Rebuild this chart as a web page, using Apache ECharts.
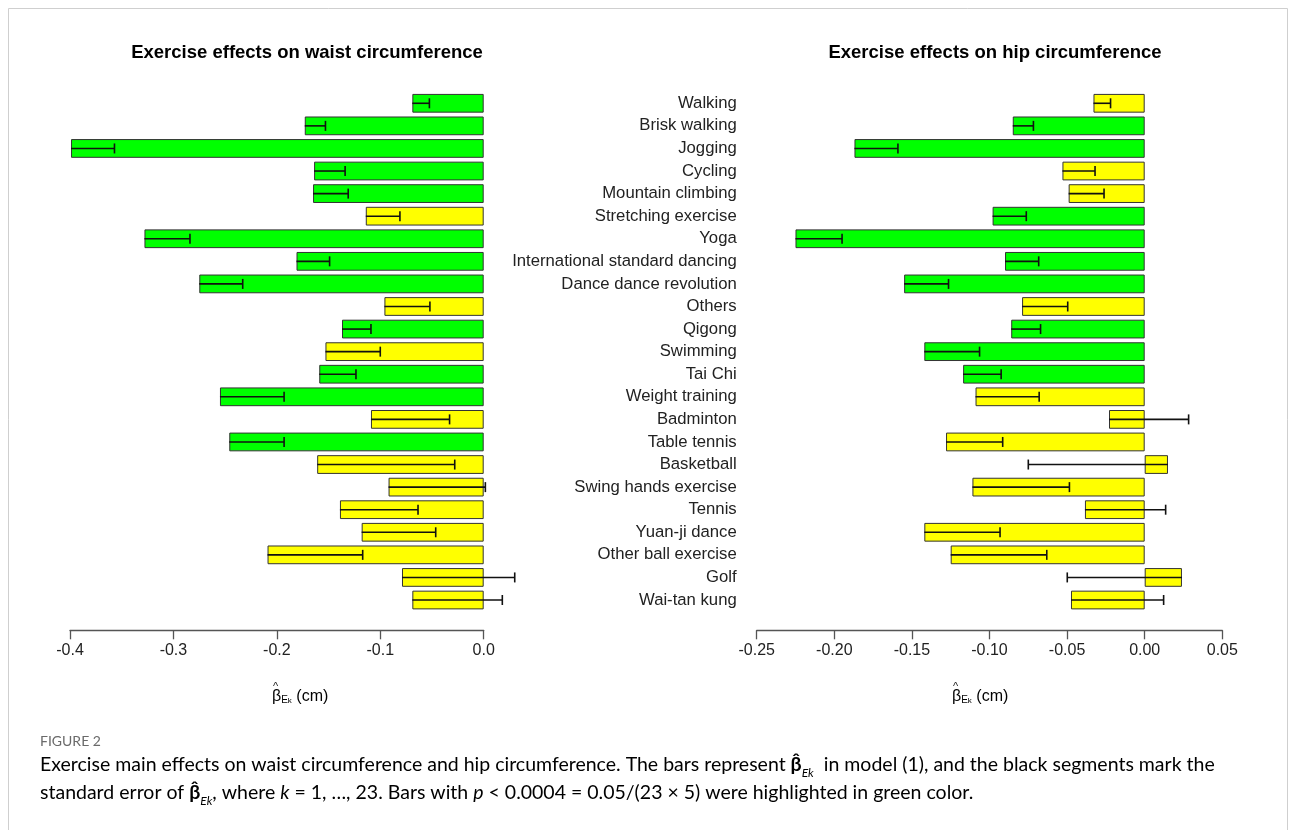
<!DOCTYPE html>
<html>
<head>
<meta charset="utf-8">
<script src="https://cdn.jsdelivr.net/npm/echarts@6/dist/echarts.min.js"></script>
<style>
  html, body { margin: 0; padding: 0; background: #fff; }
  #main { width: 1293px; height: 830px; }
</style>
</head>
<body>
<div id="main"></div>
<script>
var categories = ['Walking', 'Brisk walking', 'Jogging', 'Cycling', 'Mountain climbing',
  'Stretching exercise', 'Yoga', 'International standard dancing', 'Dance dance revolution',
  'Others', 'Qigong', 'Swimming', 'Tai Chi', 'Weight training', 'Badminton', 'Table tennis',
  'Basketball', 'Swing hands exercise', 'Tennis', 'Yuan-ji dance', 'Other ball exercise',
  'Golf', 'Wai-tan kung'];

// waist circumference: estimate, standard error, significant (green)
var waistBeta = [-0.069, -0.173, -0.399, -0.164, -0.165, -0.114, -0.328, -0.181, -0.275,
  -0.096, -0.137, -0.153, -0.159, -0.255, -0.109, -0.246, -0.161, -0.092, -0.139, -0.118,
  -0.209, -0.079, -0.069];
var waistSE = [0.0165, 0.020, 0.042, 0.030, 0.034, 0.033, 0.044, 0.032, 0.042, 0.044, 0.028,
  0.053, 0.0355, 0.062, 0.076, 0.053, 0.133, 0.0936, 0.0755, 0.0716, 0.092, 0.109, 0.087];
var waistSig = [1, 1, 1, 1, 1, 0, 1, 1, 1, 0, 1, 0, 1, 1, 0, 1, 0, 0, 0, 0, 0, 0, 0];

// hip circumference
var hipBeta = [-0.033, -0.085, -0.187, -0.053, -0.049, -0.098, -0.225, -0.090, -0.155,
  -0.079, -0.086, -0.142, -0.117, -0.109, -0.023, -0.128, 0.015, -0.111, -0.0385, -0.142,
  -0.125, 0.024, -0.0475];
var hipSE = [0.011, 0.0133, 0.028, 0.021, 0.0228, 0.0217, 0.030, 0.0217, 0.0286, 0.0294,
  0.0189, 0.0356, 0.0245, 0.041, 0.0513, 0.0365, 0.090, 0.0625, 0.052, 0.0488, 0.0619,
  0.0739, 0.0597];
var hipSig = [0, 1, 1, 0, 0, 1, 1, 1, 1, 0, 1, 1, 1, 0, 0, 0, 0, 0, 0, 0, 0, 0, 0];

var waistTicks = [-0.4, -0.3, -0.2, -0.1, 0.0];
var hipTicks = [-0.25, -0.20, -0.15, -0.10, -0.05, 0.00, 0.05];

var GREEN = '#00ff00', YELLOW = '#ffff00';
var FONT = '"Liberation Sans", Arial, sans-serif';
var CAPFONT = 'Lato, sans-serif';

function barData(beta, sig) {
  return beta.map(function (v, i) {
    return { value: v, itemStyle: { color: sig[i] ? GREEN : YELLOW } };
  });
}
function errData(beta, se) {
  return beta.map(function (v, i) { return [v, i, se[i]]; });
}
// segment from the bar end back towards zero, capped at the far end
function renderErr(params, api) {
  var v = api.value(0), i = api.value(1), se = api.value(2);
  var end = v - (v >= 0 ? 1 : -1) * se;
  var p0 = api.coord([v, i]);
  var p1 = api.coord([end, i]);
  var st = { stroke: '#111', lineWidth: 1.6 };
  return {
    type: 'group',
    children: [
      { type: 'line', shape: { x1: p0[0], y1: p0[1], x2: p1[0], y2: p1[1] }, style: st },
      { type: 'line', shape: { x1: p1[0], y1: p1[1] - 5, x2: p1[0], y2: p1[1] + 5 }, style: st }
    ]
  };
}

function xAxisFor(gridIndex, ticks, digits) {
  return {
    type: 'value', gridIndex: gridIndex,
    min: ticks[0], max: ticks[ticks.length - 1], interval: ticks[1] - ticks[0],
    offset: 19,
    axisLine: { show: true, lineStyle: { color: '#555', width: 1.3 } },
    axisTick: { show: true, length: 9, lineStyle: { color: '#555', width: 1.3 } },
    axisLabel: {
      margin: 12, fontSize: 16, color: '#222', fontFamily: FONT,
      formatter: function (v) {
        if (Math.abs(v) < 1e-9) v = 0;
        return v.toFixed(digits);
      }
    },
    splitLine: { show: false }
  };
}

var nameRich = {
  b: { fontSize: 16, fontFamily: FONT, color: '#222' },
  s: { fontSize: 10, fontFamily: FONT, color: '#222', verticalAlign: 'bottom', lineHeight: 12 },
  k: { fontSize: 8, fontFamily: FONT, color: '#222', verticalAlign: 'bottom', lineHeight: 9 },
  t: { fontSize: 16, fontFamily: FONT, color: '#222' }
};

var capRich = {
  n: { fontSize: 19.5, fontFamily: CAPFONT, color: '#5a5a5a', lineHeight: 28 },
  bb: { fontSize: 19.5, fontFamily: CAPFONT, color: '#5a5a5a', fontWeight: 'bold', lineHeight: 28 },
  s: { fontSize: 12, fontFamily: CAPFONT, color: '#5a5a5a', fontStyle: 'italic', verticalAlign: 'bottom', lineHeight: 10 },
  i: { fontSize: 19.5, fontFamily: CAPFONT, color: '#5a5a5a', fontStyle: 'italic', lineHeight: 28 }
};

function axisName(x) {
  return [
    { type: 'text', x: x, y: 697,
      style: { text: '{b|\u03b2}{s|E}{k|k}{t| (cm)}', rich: nameRich, align: 'left', verticalAlign: 'middle' } },
    { type: 'text', x: x + 1, y: 687,
      style: { text: '^', font: '11px ' + FONT, fill: '#222', align: 'left', verticalAlign: 'middle' } }
  ];
}

var chart = echarts.init(document.getElementById('main'), null, { renderer: 'canvas' });

chart.setOption({
  animation: false,
  backgroundColor: '#fff',
  title: [
    { text: 'Exercise effects on waist circumference', left: 302, top: 38, textAlign: 'center',
      textStyle: { fontSize: 18.5, fontWeight: 'bold', color: '#000', fontFamily: FONT } },
    { text: 'Exercise effects on hip circumference', left: 990, top: 38, textAlign: 'center',
      textStyle: { fontSize: 18.5, fontWeight: 'bold', color: '#000', fontFamily: FONT } }
  ],
  grid: [
    { left: 70, top: 92, width: 413.7, height: 519.3 },
    { left: 756.7, top: 92, width: 465.6, height: 519.3 }
  ],
  xAxis: [xAxisFor(0, waistTicks, 1), xAxisFor(1, hipTicks, 2)],
  yAxis: [
    { type: 'category', gridIndex: 0, data: categories, inverse: true,
      axisLine: { show: false }, axisTick: { show: false }, axisLabel: { show: false } },
    { type: 'category', gridIndex: 1, data: categories, inverse: true,
      axisLine: { show: false }, axisTick: { show: false },
      axisLabel: { margin: 20, fontSize: 16.7, color: '#222', fontFamily: FONT } }
  ],
  series: [
    { type: 'bar', xAxisIndex: 0, yAxisIndex: 0, data: barData(waistBeta, waistSig),
      barCategoryGap: '17%', itemStyle: { borderColor: '#333', borderWidth: 1 } },
    { type: 'bar', xAxisIndex: 1, yAxisIndex: 1, data: barData(hipBeta, hipSig),
      barCategoryGap: '17%', itemStyle: { borderColor: '#333', borderWidth: 1 } },
    { type: 'custom', xAxisIndex: 0, yAxisIndex: 0, data: errData(waistBeta, waistSE),
      encode: { x: 0, y: 1 }, renderItem: renderErr, clip: false, z: 5 },
    { type: 'custom', xAxisIndex: 1, yAxisIndex: 1, data: errData(hipBeta, hipSE),
      encode: { x: 0, y: 1 }, renderItem: renderErr, clip: false, z: 5 }
  ],
  graphic: [
    { type: 'rect', shape: { x: 8.5, y: 8.5, width: 1279, height: 840 },
      style: { fill: null, stroke: '#cfcfcf', lineWidth: 1 }, silent: true }
  ].concat(axisName(272), axisName(952), [
    { type: 'text', x: 40, y: 741,
      style: { text: 'FIGURE 2', font: '14px ' + CAPFONT, fill: '#6a6a6a', verticalAlign: 'middle' } },
    { type: 'text', x: 40, y: 765,
      style: { text: '{n|Exercise main effects on waist circumference and hip circumference. The bars represent }{bb|\u03b2\u0302}{s|Ek}{n|  in model (1), and the black segments mark the}',
        rich: capRich, verticalAlign: 'middle' } },
    { type: 'text', x: 40, y: 793,
      style: { text: '{n|standard error of }{bb|\u03b2\u0302}{s|Ek}{n|, where }{i|k}{n| = 1, \u2026, 23. Bars with }{i|p}{n| < 0.0004 = 0.05/(23 \u00d7 5) were highlighted in green color.}',
        rich: capRich, verticalAlign: 'middle' } }
  ])
});
</script>
</body>
</html>
